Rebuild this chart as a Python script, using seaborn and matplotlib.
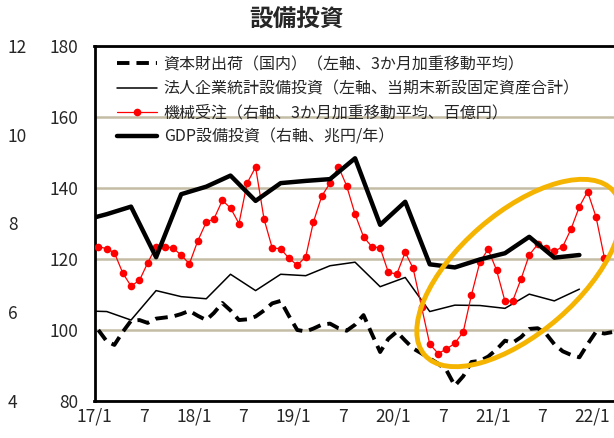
import matplotlib
matplotlib.use("Agg")
import matplotlib.pyplot as plt
from matplotlib.patches import Ellipse
from matplotlib.transforms import Affine2D
import seaborn as sns
import numpy as np
import pandas as pd

sns.set_style("white")
plt.rcParams['font.family'] = ['Noto Sans CJK JP', 'DejaVu Sans']

# monthly series (plotted at mid-month), quarterly series (mid of the middle month)
months = pd.date_range('2017-01-01', periods=63, freq='MS') + pd.Timedelta(days=14)
quarters = pd.date_range('2016-11-01', periods=21, freq='3MS') + pd.Timedelta(days=14)

# 資本財出荷 (left axis), 17/1 - 22/3
shukka = [100.0, 96.8, 95.8, 99.5, 102.6, 102.8, 102.0, 103.2, 103.5, 103.8, 104.5, 105.4,
          104.0, 102.8, 104.8, 107.6, 105.5, 102.8, 103.0, 103.8, 105.5, 107.5, 108.2, 104.0,
          100.0, 99.6, 100.4, 101.5, 101.8, 100.5, 99.8, 101.5, 104.2, 99.0, 93.8, 97.5,
          99.5, 97.0, 94.8, 93.4, 92.0, 90.5, 88.7, 84.3, 87.0, 91.0, 91.3, 92.5,
          94.5, 97.0, 96.4, 98.0, 100.3, 100.5, 99.0, 96.0, 94.0, 93.0, 92.3, 96.0,
          99.5, 99.0, 99.4]

# 機械受注 (right axis), 17/1 - 22/2
kikai = [7.48, 7.43, 7.34, 6.88, 6.59, 6.72, 7.11, 7.48, 7.48, 7.45, 7.29, 7.09,
         7.61, 8.03, 8.10, 8.52, 8.35, 8.00, 8.91, 9.27, 8.10, 7.45, 7.43, 7.22,
         7.06, 7.25, 8.03, 8.62, 8.91, 9.28, 8.85, 8.21, 7.70, 7.48, 7.45, 6.90,
         6.86, 7.35, 6.99, 6.12, 5.28, 5.07, 5.17, 5.30, 5.56, 6.39, 7.13, 7.42,
         6.95, 6.25, 6.25, 6.75, 7.29, 7.53, 7.44, 7.37, 7.48, 7.87, 8.38, 8.72,
         8.15, 7.22]

# 法人企業統計 (left axis), 16Q4 - 21Q4
houjin = [105.4, 105.2, 102.8, 111.1, 109.4, 108.8, 115.7, 111.1, 115.7, 115.3, 118.1,
          119.1, 112.2, 114.8, 105.2, 107.0, 106.9, 106.1, 110.1, 108.2, 111.5]

# GDP設備投資 (right axis), 16Q4 - 21Q4
gdp = [8.06, 8.21, 8.38, 7.24, 8.66, 8.83, 9.08, 8.51, 8.91, 8.96, 9.00,
       9.47, 7.97, 8.49, 7.08, 7.01, 7.19, 7.33, 7.70, 7.23, 7.29]

tick_dates = pd.date_range('2017-01-01', '2022-01-01', freq='6MS')
tick_labels = ['17/1', '7', '18/1', '7', '19/1', '7', '20/1', '7', '21/1', '7', '22/1']
left_ticks = [80, 100, 120, 140, 160, 180]
right_ticks = [4, 6, 8, 10, 12]

names = ['資本財出荷（国内）（左軸、3か月加重移動平均）',
         '法人企業統計設備投資（左軸、当期末新設固定資産合計）',
         '機械受注（右軸、3か月加重移動平均、百億円）',
         'GDP設備投資（右軸、兆円/年）']

fig = plt.figure(figsize=(6.14, 4.38), dpi=100)
ax = fig.add_axes([94.5 / 614, 37 / 438, (614 - 94.5) / 614, 355 / 438])
ax2 = ax.twinx()

sns.lineplot(x=months, y=shukka, ax=ax, color='black', lw=2.8,
             linestyle=(0, (3.2, 1.8)), label=names[0], legend=False)
sns.lineplot(x=quarters, y=houjin, ax=ax, color='black', lw=1.1,
             label=names[1], legend=False)
sns.lineplot(x=months[:len(kikai)], y=kikai, ax=ax2, color='#ff0000', lw=0.9,
             marker='o', markersize=5.5, markeredgewidth=0, label=names[2], legend=False)
sns.lineplot(x=quarters, y=gdp, ax=ax2, color='black', lw=3.2,
             label=names[3], legend=False)

ax.set_xlim(pd.Timestamp('2017-01-01'), pd.Timestamp('2022-03-22'))
ax.set_ylim(80, 180)
ax2.set_ylim(4, 12)

ax.set_xticks(tick_dates)
ax.set_xticklabels(tick_labels)
ax.tick_params(axis='x', direction='in', length=6, width=1.5, pad=5, labelsize=12.5)
ax.set_yticks(left_ticks)
ax.set_yticklabels([str(v) for v in left_ticks])
ax.tick_params(axis='y', length=0, pad=11.9, labelsize=12.5)
ax.yaxis.grid(True, color='#c4bca4', lw=1.8)
ax.set_xlabel('')
ax.set_ylabel('')

ax2.yaxis.set_ticks_position('left')
ax2.yaxis.set_label_position('left')
ax2.set_yticks(right_ticks)
ax2.set_yticklabels([str(v) for v in right_ticks], ha='left')
ax2.tick_params(axis='y', length=0, pad=62.3, labelsize=12.5)
ax2.set_ylabel('')
ax2.grid(False)

for side in ['left', 'bottom', 'top']:
    ax.spines[side].set_color('black')
    ax.spines[side].set_linewidth(2)
ax.spines['right'].set_visible(False)
for side in ax2.spines:
    ax2.spines[side].set_visible(False)

h1, l1 = ax.get_legend_handles_labels()
h2, l2 = ax2.get_legend_handles_labels()
ax2.legend(h1 + h2, l1 + l2, loc='upper left',
           bbox_to_anchor=(22.5 / 519.5, 1 - 10 / 355), frameon=False,
           fontsize=11.5, handlelength=2.5, handletextpad=0.42,
           labelspacing=0.45, borderpad=0, borderaxespad=0)

fig.text(297 / 614, 1 - 18.5 / 438, '設備投資', ha='center', va='center',
         fontsize=17, fontweight='bold')

# highlight ring drawn in pixel space
ring = Ellipse((519, 438 - 273), width=250, height=120, angle=41, fill=False,
               edgecolor='#f5b400', lw=3.5,
               transform=Affine2D().scale(1 / 614, 1 / 438) + fig.transFigure)
fig.add_artist(ring)

fig.savefig('out.png', dpi=100)
